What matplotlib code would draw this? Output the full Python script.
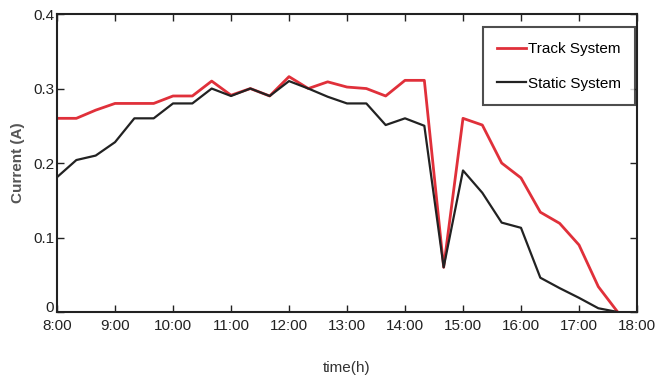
import matplotlib
matplotlib.use('Agg')
import matplotlib.pyplot as plt
import numpy as np

plt.rcParams['font.family'] = ['Liberation Sans', 'DejaVu Sans']

# sample times, every 20 minutes
times = ['8:00', '8:20', '8:40', '9:00', '9:20', '9:40', '10:00', '10:20', '10:40',
         '11:00', '11:20', '11:40', '12:00', '12:20', '12:40', '13:00', '13:20', '13:40',
         '14:00', '14:20', '14:40', '15:00', '15:20', '15:40', '16:00', '16:20', '16:40',
         '17:00', '17:20', '17:40']

track = [0.26, 0.26, 0.271, 0.28, 0.28, 0.28, 0.29, 0.29, 0.31,
         0.291, 0.30, 0.29, 0.316, 0.30, 0.309, 0.302, 0.30, 0.29,
         0.311, 0.311, 0.06, 0.26, 0.251, 0.20, 0.18, 0.134, 0.119,
         0.09, 0.034, 0.0]

static = [0.181, 0.204, 0.21, 0.228, 0.26, 0.26, 0.28, 0.28, 0.30,
          0.29, 0.30, 0.29, 0.31, 0.30, 0.289, 0.28, 0.28, 0.251,
          0.26, 0.25, 0.06, 0.19, 0.16, 0.12, 0.113, 0.046, 0.032,
          0.019, 0.005, 0.0]

xtick_labels = ['8:00', '9:00', '10:00', '11:00', '12:00', '13:00',
                '14:00', '15:00', '16:00', '17:00', '18:00']
ytick_labels = ['0', '0.1', '0.2', '0.3', '0.4']


def to_hours(t):
    h, m = t.split(':')
    return int(h) + int(m) / 60.0


x = np.array([to_hours(t) for t in times])
xt = [to_hours(t) for t in xtick_labels]

fig = plt.figure(figsize=(6.67, 3.8), dpi=100)
ax = fig.add_axes([0.0855, 0.179, 0.8695, 0.784])

ax.plot(x, track, color='#e0303a', lw=2.0, label='Track System')
ax.plot(x, static, color='#222222', lw=1.6, label='Static System')

ax.set_xlim(8, 18)
ax.set_ylim(0, 0.4)
ax.set_xticks(xt)
ax.set_xticklabels(xtick_labels)
ax.set_yticks([0, 0.1, 0.2, 0.3, 0.4])
ax.set_yticklabels(ytick_labels)

ax.tick_params(direction='in', top=True, right=True, length=5, width=1,
               labelsize=11, colors='#222222')
ax.tick_params(axis='x', pad=5)
ax.tick_params(axis='y', pad=2)
# "0" sits just above "8:00" like the original
ax.get_yticklabels()[0].set_verticalalignment('baseline')
for s in ax.spines.values():
    s.set_linewidth(1.5)
    s.set_color('#222222')

ax.set_xlabel('time(h)', fontsize=11, color='#333333', labelpad=20)
ax.set_ylabel('Current (A)', fontsize=11, color='#555555', fontweight='bold', labelpad=6)

leg = ax.legend(loc='upper right', bbox_to_anchor=(0.997, 0.955), fontsize=11,
                fancybox=False, frameon=True, handlelength=1.9, handletextpad=0.1,
                borderpad=0.95, labelspacing=1.35, borderaxespad=0.0)
leg.get_frame().set_edgecolor('#222222')
leg.get_frame().set_linewidth(1.5)

fig.savefig('out.png', dpi=100)
